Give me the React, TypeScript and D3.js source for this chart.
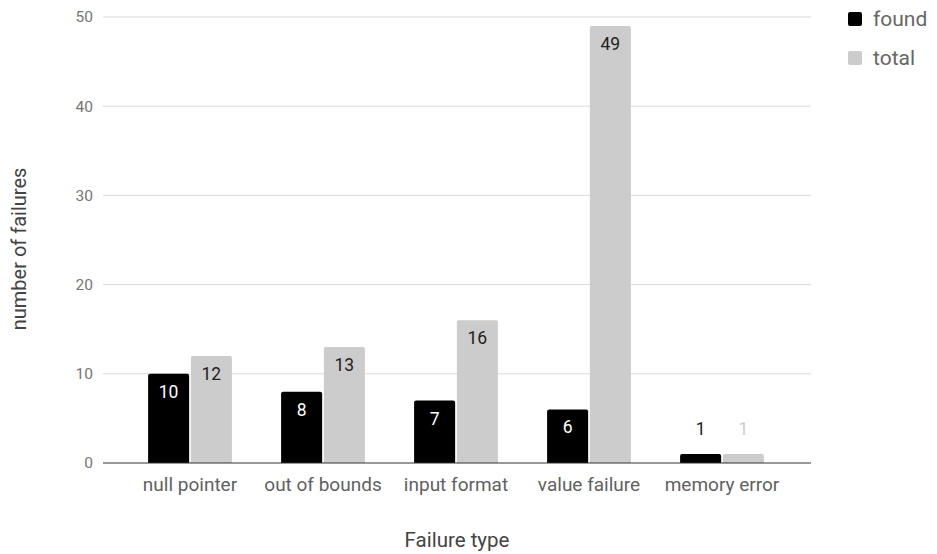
import React from "react";
import * as d3 from "d3";

const categories = ["null pointer", "out of bounds", "input format", "value failure", "memory error"];
const found = [10, 8, 7, 6, 1];
const total = [12, 13, 16, 49, 1];
const yTicks = [0, 10, 20, 30, 40, 50];
const seriesNames = ["found", "total"];
const colors = ["#000000", "#cccccc"];

export default function App() {
  const W = 937, H = 554;
  const y = d3.scaleLinear().domain([0, 50]).range([463, 17]);
  const x = d3.scaleBand().domain(categories).range([123.5, 788.5]).paddingInner(0.37).paddingOuter(0.185);
  const xs = d3.scaleBand().domain(seriesNames).range([0, x.bandwidth()]).paddingInner(0.04);
  const font = "Roboto, sans-serif";
  const data = [found, total];
  return (
    <svg width={W} height={H} style={{ position: "absolute", left: 0, top: 0 }} fontFamily={font}>
      {yTicks.map(t => (
        <g key={t}>
          {t !== 0 && <line x1={103} x2={811} y1={y(t)} y2={y(t)} stroke="#d9d9d9" strokeWidth={1} />}
          <text x={93} y={y(t)} dy="0.35em" textAnchor="end" fontSize={15.5} fill="#757575">{t}</text>
        </g>
      ))}
      {categories.map((c, i) => (
        <g key={c}>
          {seriesNames.map((s, j) => {
            const v = data[j][i];
            const bx = (x(c) as number) + (xs(s) as number);
            const bw = xs.bandwidth();
            const top = y(v);
            const h = y(0) - top;
            const inside = h > 30;
            let ly: number, fill: string;
            if (inside) {
              ly = top + 24;
              fill = j === 0 ? "#ffffff" : "#222222";
            } else {
              ly = top - 19;
              fill = j === 0 ? "#222222" : "#cccccc";
            }
            return (
              <g key={s}>
                <path d={`M${bx},${y(0)}V${top + 2}Q${bx},${top} ${bx + 2},${top}H${bx + bw - 2}Q${bx + bw},${top} ${bx + bw},${top + 2}V${y(0)}Z`} fill={colors[j]} />
                <text x={bx + bw / 2} y={ly} textAnchor="middle" fontSize={17.5} fill={fill}>{v}</text>
              </g>
            );
          })}
          <text x={(x(c) as number) + x.bandwidth() / 2} y={491} textAnchor="middle" fontSize={19} fill="#616161">{c}</text>
        </g>
      ))}
      <line x1={103} x2={811} y1={y(0)} y2={y(0)} stroke="#333333" strokeWidth={1} />
      <text x={457} y={547} textAnchor="middle" fontSize={20.5} fill="#444444">Failure type</text>
      <text transform={`translate(26,249) rotate(-90)`} textAnchor="middle" fontSize={20} fill="#444444">number of failures</text>
      {seriesNames.map((s, j) => (
        <g key={s}>
          <rect x={848} y={12 + j * 39} width={14} height={14} rx={2} fill={colors[j]} />
          <text x={873} y={26 + j * 39} fontSize={21} fill="#666666">{s}</text>
        </g>
      ))}
    </svg>
  );
}
